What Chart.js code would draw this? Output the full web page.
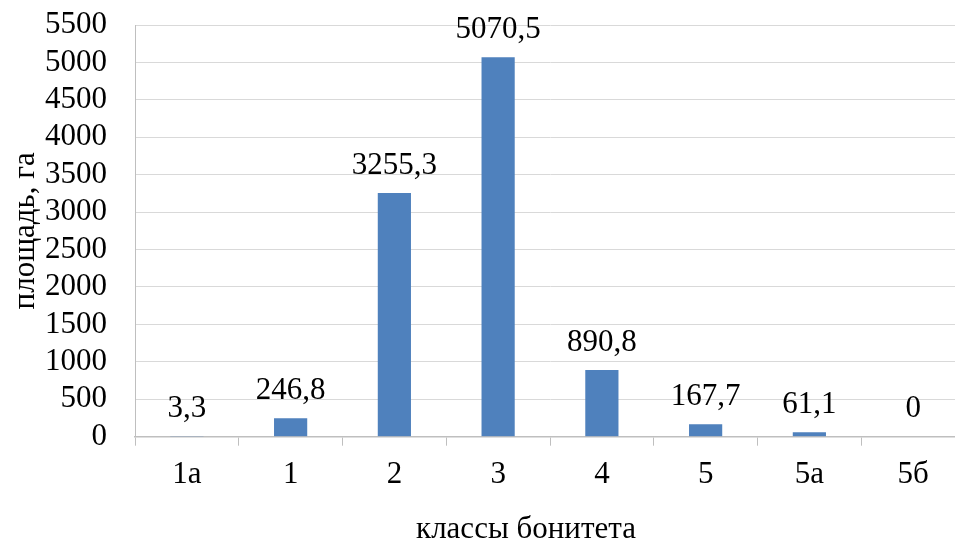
<!DOCTYPE html>
<html lang="ru">
<head>
<meta charset="utf-8">
<title>Площадь по классам бонитета</title>
<script src="https://cdn.jsdelivr.net/npm/chart.js@4/dist/chart.umd.min.js"></script>
<style>
  html, body { margin: 0; padding: 0; background: #ffffff; overflow: hidden; }
  #wrap { width: 966px; height: 541px; }
</style>
</head>
<body>
<div id="wrap"><canvas id="chart" width="966" height="541"></canvas></div>
<script>
// Классы бонитета и площадь насаждений каждого класса, га
const categories = ['1а', '1', '2', '3', '4', '5', '5а', '5б'];
const areaValues = [3.3, 246.8, 3255.3, 5070.5, 890.8, 167.7, 61.1, 0];

// Шкала площади
const yMin = 0;
const yMax = 5500;
const yStep = 500;

const xTitle = 'классы бонитета';
const yTitle = 'площадь, га';

const FONT = '"Liberation Serif", "Times New Roman", serif';
const FONT_SIZE = 31;

// Подписи значений над столбцами (десятичная запятая)
const valueLabels = {
  id: 'valueLabels',
  afterDatasetsDraw(chart) {
    const ctx = chart.ctx;
    const meta = chart.getDatasetMeta(0);
    const data = chart.data.datasets[0].data;
    ctx.save();
    ctx.font = FONT_SIZE + 'px ' + FONT;
    ctx.fillStyle = '#000000';
    ctx.textAlign = 'center';
    ctx.textBaseline = 'alphabetic';
    meta.data.forEach((bar, i) => {
      const text = String(data[i]).replace('.', ',');
      ctx.fillText(text, bar.x, bar.y - 19.5);
    });
    ctx.restore();
  }
};

// Названия осей
const axisTitles = {
  id: 'axisTitles',
  afterDraw(chart) {
    const ctx = chart.ctx;
    const area = chart.chartArea;
    ctx.save();
    ctx.font = FONT_SIZE + 'px ' + FONT;
    ctx.fillStyle = '#000000';
    ctx.textAlign = 'center';
    ctx.textBaseline = 'alphabetic';
    ctx.fillText(xTitle, 526, 538);
    ctx.translate(34, (area.top + area.bottom) / 2);
    ctx.rotate(-Math.PI / 2);
    ctx.fillText(yTitle, 0, 0);
    ctx.restore();
  }
};

new Chart(document.getElementById('chart'), {
  type: 'bar',
  data: {
    labels: categories,
    datasets: [{
      data: areaValues,
      backgroundColor: '#4F81BD',
      borderWidth: 0,
      barPercentage: 0.32,
      categoryPercentage: 1.0
    }]
  },
  options: {
    responsive: false,
    animation: false,
    devicePixelRatio: 1,
    layout: { padding: { top: 25, right: 1, bottom: 0, left: 0 } },
    plugins: {
      legend: { display: false },
      tooltip: { enabled: false }
    },
    scales: {
      x: {
        offset: true,
        grid: {
          offset: true,
          drawOnChartArea: false,
          drawTicks: true,
          tickLength: 9,
          color: '#bfbfbf',
          lineWidth: 1
        },
        border: { display: true, color: '#bfbfbf', width: 1.5 },
        ticks: {
          color: '#000000',
          font: { family: FONT, size: FONT_SIZE },
          padding: 11,
          maxRotation: 0,
          autoSkip: false
        },
        afterFit(scale) {
          scale.height = 104.3;
          scale.paddingLeft = 0;
          scale.paddingRight = 0;
        }
      },
      y: {
        min: yMin,
        max: yMax,
        grid: {
          color: '#d9d9d9',
          lineWidth: 1,
          drawTicks: false
        },
        border: { display: true, color: '#bfbfbf', width: 1 },
        ticks: {
          stepSize: yStep,
          autoSkip: false,
          color: '#000000',
          font: { family: FONT, size: FONT_SIZE },
          padding: 28,
          callback: (v) => String(v)
        },
        afterFit(scale) {
          scale.width = 135;
          scale.paddingTop = 0;
          scale.paddingBottom = 0;
        }
      }
    }
  },
  plugins: [valueLabels, axisTitles]
});
</script>
</body>
</html>
